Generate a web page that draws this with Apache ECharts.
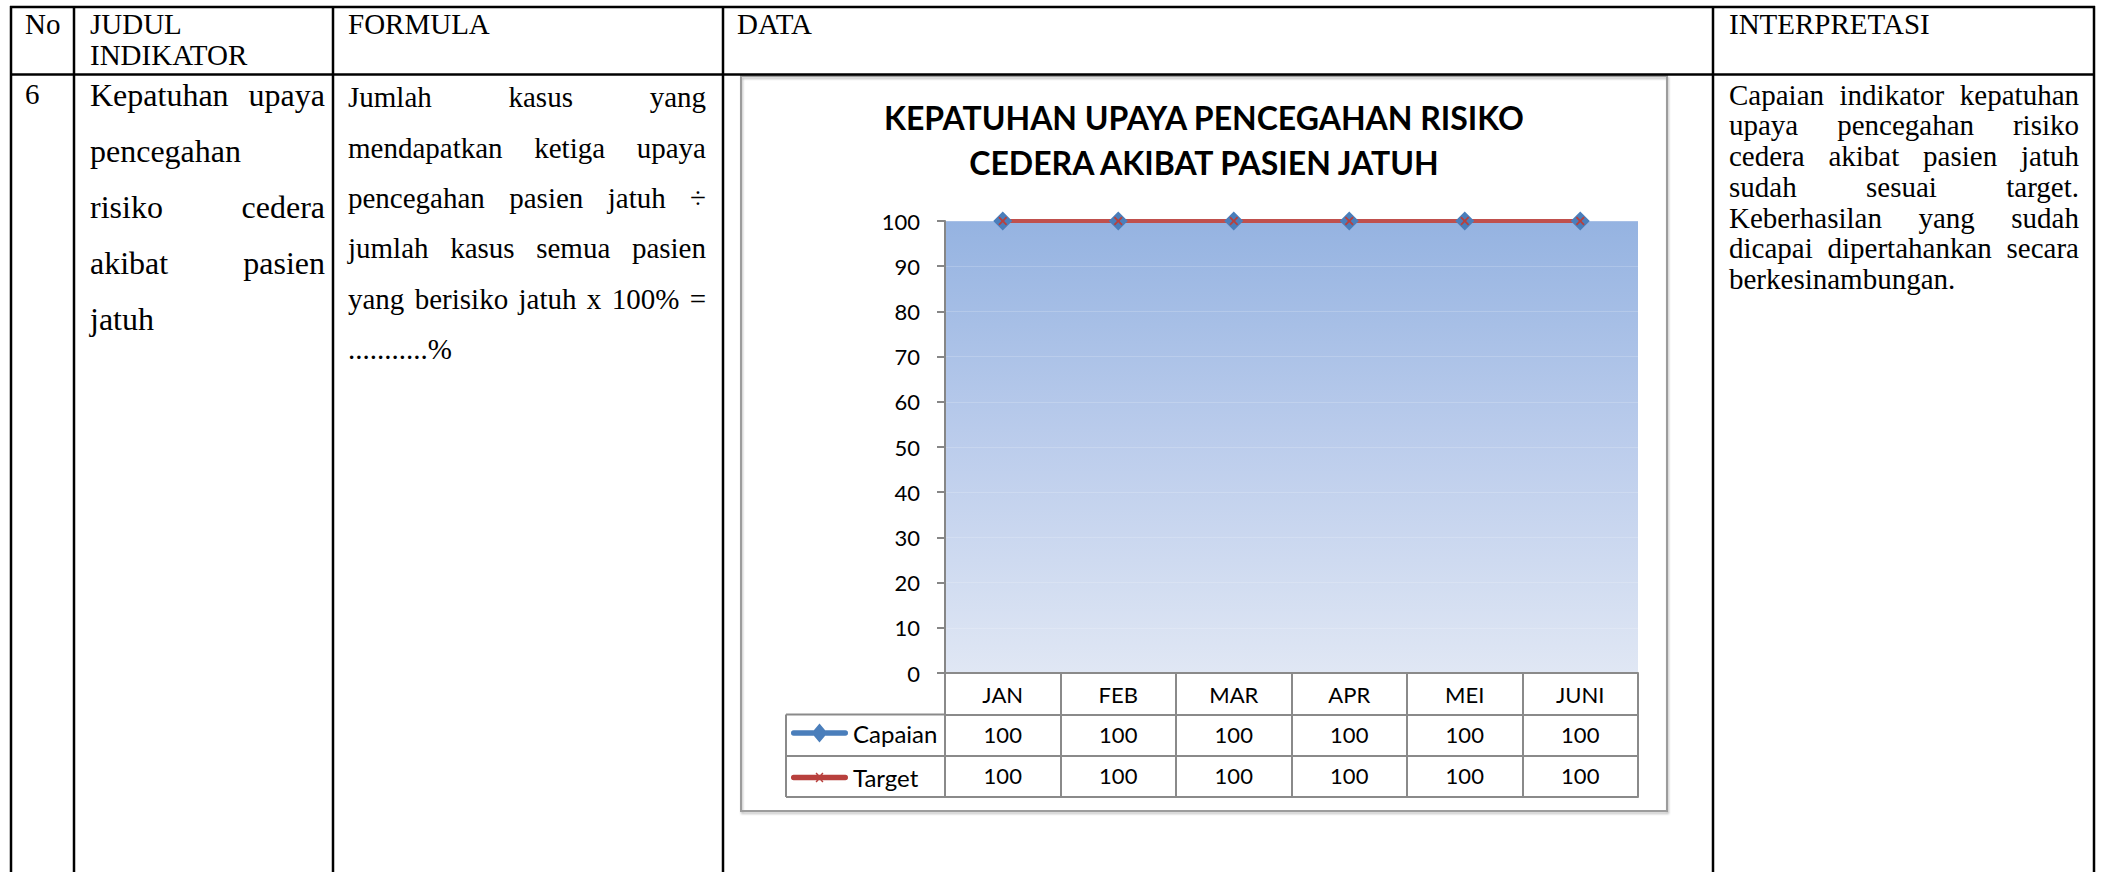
<!DOCTYPE html>
<html>
<head>
<meta charset="utf-8">
<script src="https://cdn.jsdelivr.net/npm/echarts@6/dist/echarts.min.js"></script>
<style>
html,body{margin:0;padding:0;background:#fff;}
#main{width:2105px;height:872px;}
</style>
</head>
<body>
<div id="main"></div>
<script>
// ---------- data ----------
const months = ['JAN', 'FEB', 'MAR', 'APR', 'MEI', 'JUNI'];
const capaian = [100, 100, 100, 100, 100, 100];
const target = [100, 100, 100, 100, 100, 100];
const seriesNames = ['Capaian', 'Target'];
const chartTitle = 'KEPATUHAN UPAYA PENCEGAHAN RISIKO\nCEDERA AKIBAT PASIEN JATUH';
const headers = ['No', 'JUDUL', 'INDIKATOR', 'FORMULA', 'DATA', 'INTERPRETASI'];
const rowNo = '6';
const judulLines = [['Kepatuhan', 'upaya'], ['pencegahan'], ['risiko', 'cedera'], ['akibat', 'pasien'], ['jatuh']];
const formulaLines = [['Jumlah', 'kasus', 'yang'], ['mendapatkan', 'ketiga', 'upaya'], ['pencegahan', 'pasien', 'jatuh', '÷'],
  ['jumlah', 'kasus', 'semua', 'pasien'], ['yang', 'berisiko', 'jatuh', 'x', '100%', '='], ['...........%']];
const interpLines = [['Capaian', 'indikator', 'kepatuhan'], ['upaya', 'pencegahan', 'risiko'], ['cedera', 'akibat', 'pasien', 'jatuh'],
  ['sudah', 'sesuai', 'target.'], ['Keberhasilan', 'yang', 'sudah'], ['dicapai', 'dipertahankan', 'secara'], ['berkesinambungan.']];

// ---------- helpers for the surrounding document table ----------
const SERIF = '"Liberation Serif", "Times New Roman", serif';
const mctx = document.createElement('canvas').getContext('2d');
const graphics = [];
function txt(s, x, baseline, size, align) {
  graphics.push({
    type: 'text', silent: true, z: 10,
    style: {
      text: s, x: x, y: baseline - 0.3375 * size,
      font: size + 'px ' + SERIF, fill: '#000',
      align: align || 'left', textAlign: align || 'left',
      verticalAlign: 'middle', textVerticalAlign: 'middle'
    }
  });
}
function block(lines, x0, x1, firstBase, step, size, lastJustified) {
  mctx.font = size + 'px ' + SERIF;
  lines.forEach((words, li) => {
    const base = firstBase + li * step;
    const isLast = li === lines.length - 1;
    if (words.length === 1 || (isLast && !lastJustified)) {
      txt(words.join(' '), x0, base, size);
    } else {
      const w = words.map(s => mctx.measureText(s).width);
      const tot = w.reduce((a, b) => a + b, 0);
      const gap = (x1 - x0 - tot) / (words.length - 1);
      let x = x0;
      words.forEach((s, i) => { txt(s, x, base, size); x += w[i] + gap; });
    }
  });
}
function line(x1, y1, x2, y2, color, width) {
  graphics.push({ type: 'line', silent: true, z: 5,
    shape: { x1, y1, x2, y2 }, style: { stroke: color, lineWidth: width } });
}

// outer table
const colX = [11, 74, 333, 723, 1713, 2094];
line(10, 7, 2095, 7, '#000', 2.5);
line(10, 74.5, 2095, 74.5, '#000', 2.5);
colX.forEach(x => line(x, 6, x, 872, '#000', 2.5));

// header texts
txt(headers[0], 25, 34, 29);
txt(headers[1], 90, 34, 29);
txt(headers[2], 90, 65, 29);
txt(headers[3], 348, 34, 29);
txt(headers[4], 737, 34, 29);
txt(headers[5], 1729, 34, 29);

// body texts
txt(rowNo, 25, 104, 29);
block(judulLines, 90, 325, 105.5, 56, 32, false);
block(formulaLines, 348, 706, 107, 50.4, 29, false);
block(interpLines, 1729, 2079, 104.5, 30.7, 29, false);

// chart area border
graphics.push({ type: 'rect', silent: true, z: 1,
  shape: { x: 741, y: 76, width: 926, height: 735 },
  style: { fill: 'none', stroke: '#9c9c9c', lineWidth: 2, shadowColor: 'rgba(0,0,0,0.25)', shadowOffsetX: 1, shadowOffsetY: 2, shadowBlur: 2 } });

// legend column of data table
const TG = '#8a8a8a';
line(786, 714.5, 945, 714.5, TG, 2);
line(786, 756, 945, 756, TG, 2);
line(786, 797, 945, 797, TG, 2);
line(786, 714.5, 786, 797, TG, 2);

const xMark = 'path://M0,1.5 L1.5,0 L5,3.5 L8.5,0 L10,1.5 L6.5,5 L10,8.5 L8.5,10 L5,6.5 L1.5,10 L0,8.5 L3.5,5 Z';
// legend keys (line + marker) drawn in a 57 x 20 box
const BAR = 'M2.5,7.3 L54.5,7.3 A2.7,2.7 0 0 1 54.5,12.7 L2.5,12.7 A2.7,2.7 0 0 1 2.5,7.3 Z ';
const CORNERS = 'M0,0 L0.01,0 L0,0.01 Z M57,20 L56.99,20 L57,19.99 Z ';
const keyCapaian = 'path://' + CORNERS + BAR + 'M28.5,0.5 L36.5,10 L28.5,19.5 L20.5,10 Z';
const keyTarget = 'path://' + CORNERS + BAR + 'M24.5,6 L25.5,5 L28.5,8 L31.5,5 L32.5,6 L29.5,9 L29.5,11 L32.5,14 L31.5,15 L28.5,12 L25.5,15 L24.5,14 L27.5,11 L27.5,9 Z';

const LATO = 'Lato';
const lab = { fontFamily: LATO, fontSize: 22, color: '#000', lineHeight: 22, margin: 10, interval: 0 };

const chart = echarts.init(document.getElementById('main'), null, { renderer: 'svg' });
chart.setOption({
  animation: false,
  backgroundColor: '#fff',
  title: {
    text: chartTitle, left: 1204, top: 95, padding: 0,
    textAlign: 'center',
    textStyle: { fontFamily: LATO, fontWeight: 'bold', fontSize: 32, lineHeight: 45, color: '#000' }
  },
  legend: {
    orient: 'vertical', left: 791, top: 721, padding: 0,
    itemWidth: 57, itemHeight: 20, itemGap: 20.5,
    data: [{ name: seriesNames[0], icon: keyCapaian }, { name: seriesNames[1], icon: keyTarget }],
    textStyle: { fontFamily: LATO, fontSize: 24, color: '#000', lineHeight: 20 }
  },
  grid: {
    left: 945, top: 221, width: 693, height: 452, show: true, borderWidth: 0,
    backgroundColor: new echarts.graphic.LinearGradient(0, 0, 0, 1, [
      { offset: 0, color: '#95b3e1' }, { offset: 0.5, color: '#bccdec' }, { offset: 1, color: '#e0e7f4' }])
  },
  xAxis: [
    { type: 'category', data: months, position: 'bottom',
      axisLine: { lineStyle: { color: TG, width: 2 } },
      axisTick: { show: true, length: 124, lineStyle: { color: TG, width: 2 } },
      axisLabel: lab },
    { type: 'category', data: months, position: 'bottom', offset: 41.5,
      axisLine: { lineStyle: { color: TG, width: 2 } }, axisTick: { show: false },
      axisLabel: Object.assign({}, lab, { margin: 9, formatter: (v, i) => String(capaian[i]) }) },
    { type: 'category', data: months, position: 'bottom', offset: 83,
      axisLine: { lineStyle: { color: TG, width: 2 } }, axisTick: { show: false },
      axisLabel: Object.assign({}, lab, { margin: 8, formatter: (v, i) => String(target[i]) }) },
    { type: 'category', data: months, position: 'bottom', offset: 124,
      axisLine: { lineStyle: { color: TG, width: 2 } }, axisTick: { show: false },
      axisLabel: { show: false } }
  ],
  yAxis: {
    type: 'value', min: 0, max: 100, interval: 10,
    axisLine: { show: true, lineStyle: { color: '#868686', width: 2 } },
    axisTick: { show: true, length: 8, lineStyle: { color: '#868686', width: 2 } },
    axisLabel: { fontFamily: LATO, fontSize: 22, color: '#000', margin: 25 },
    splitLine: { show: true, lineStyle: { color: 'rgba(255,255,255,0.18)', width: 1 } }
  },
  series: [
    { name: seriesNames[0], type: 'line', xAxisIndex: 0, data: capaian,
      symbol: 'diamond', symbolSize: 19,
      itemStyle: { color: '#4a7ebb' }, lineStyle: { color: '#4a7ebb', width: 4 } },
    { name: seriesNames[1], type: 'line', xAxisIndex: 0, data: target,
      symbol: xMark, symbolSize: 9,
      itemStyle: { color: '#b8403d' }, lineStyle: { color: '#c0504d', width: 4 } }
  ],
  graphic: graphics
});
</script>
</body>
</html>
